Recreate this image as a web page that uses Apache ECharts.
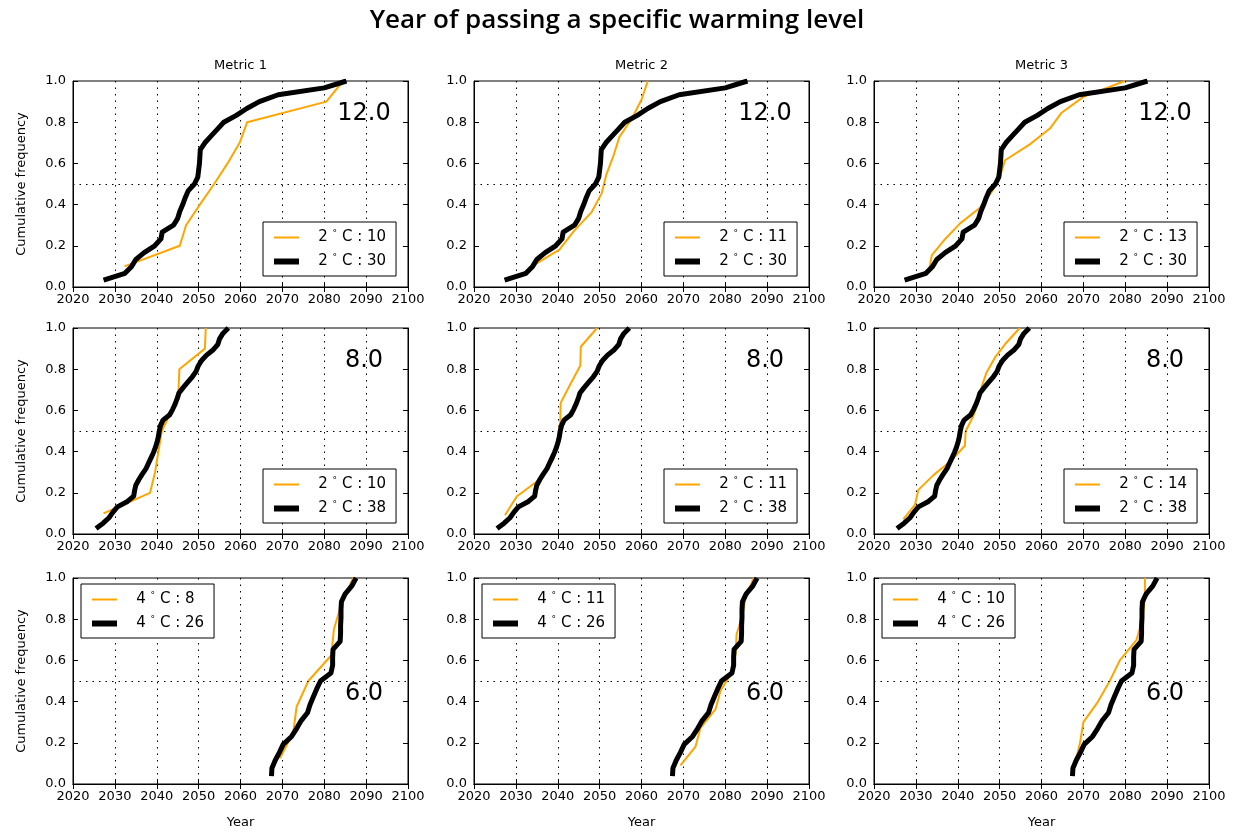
<!DOCTYPE html>
<html>
<head>
<meta charset="utf-8">
<script src="https://cdn.jsdelivr.net/npm/echarts@6/dist/echarts.min.js"></script>
<style>
html, body { margin: 0; background: #fff; }
#chart { width: 1234px; height: 832px; }
</style>
</head>
<body>
<div id="chart"></div>
<script>
// column / row labels
const metrics = ['Metric 1', 'Metric 2', 'Metric 3']
const levels = ['12.0', '8.0', '6.0']
const warming = ['2', '2', '4']

// sorted years of passing the level, black = reference ensemble per row
const black2C30 = [2027.3, 2032.4, 2034.0, 2035.0, 2037.0, 2039.5, 2041.0, 2041.3, 2044.0, 2045.0,
    2045.5, 2046.2, 2046.8, 2047.5, 2049.0, 2049.8, 2050.0, 2050.2, 2050.3, 2050.4,
    2051.5, 2053.0, 2054.5, 2056.0, 2059.0, 2061.5, 2064.5, 2069.0, 2080.0, 2085.3]
const black2C38 = [2025.5, 2027.2, 2028.6, 2029.5, 2030.6, 2033.0, 2034.5, 2034.7, 2035.0, 2035.7,
    2036.5, 2037.4, 2038.0, 2038.6, 2039.2, 2039.7, 2040.1, 2040.4, 2040.6, 2040.9,
    2041.5, 2043.1, 2043.8, 2044.4, 2044.9, 2045.3, 2046.3, 2047.4, 2048.5, 2049.4,
    2049.9, 2050.7, 2051.9, 2053.5, 2054.6, 2055.0, 2055.8, 2057.1]
const black4C26 = [2067.4, 2067.5, 2068.3, 2069.3, 2070.2, 2072.2, 2073.4, 2074.5, 2076.0, 2076.6,
    2077.4, 2078.2, 2079.1, 2081.6, 2082.0, 2082.0, 2082.1, 2083.8, 2083.9, 2083.9,
    2084.0, 2084.0, 2084.1, 2085.0, 2086.6, 2087.6]

// orange = subset per metric
const orangeR1M1 = [2032.3, 2045.5, 2047.0, 2050.3, 2053.7, 2056.9, 2059.8, 2061.6, 2080.5, 2084.5]
const orangeR1M2 = [2033.0, 2040.4, 2043.9, 2048.1, 2050.5, 2051.6, 2053.3, 2054.7, 2057.7, 2060.0, 2061.5]
const orangeR1M3 = [2033.1, 2033.8, 2036.9, 2040.5, 2045.3, 2048.1, 2050.1, 2051.3, 2057.2, 2062.0,
    2064.8, 2070.0, 2079.9]
const orangeR2M1 = [2027.3, 2038.4, 2039.6, 2040.4, 2041.2, 2043.6, 2045.2, 2045.4, 2051.5, 2051.7]
const orangeR2M2 = [2027.4, 2030.2, 2036.2, 2039.0, 2039.9, 2040.6, 2040.7, 2043.0, 2045.4, 2045.5, 2049.4]
const orangeR2M3 = [2027.0, 2029.8, 2030.6, 2034.2, 2038.5, 2041.7, 2041.9, 2043.7, 2044.9, 2045.7,
    2046.9, 2048.9, 2051.6, 2054.8]
const orangeR3M1 = [2069.4, 2072.6, 2073.4, 2076.2, 2081.7, 2082.3, 2084.1, 2086.9]
const orangeR3M2 = [2069.3, 2072.9, 2074.1, 2077.7, 2078.9, 2081.7, 2082.5, 2082.7, 2084.1, 2084.9, 2086.8]
const orangeR3M3 = [2068.0, 2069.2, 2070.0, 2073.5, 2076.3, 2078.7, 2082.7, 2084.1, 2084.7, 2084.7]

const blacks = [black2C30, black2C38, black4C26]
const oranges = [
    [orangeR1M1, orangeR1M2, orangeR1M3],
    [orangeR2M1, orangeR2M2, orangeR2M3],
    [orangeR3M1, orangeR3M2, orangeR3M3]
]

// layout
const colLeft = [73, 474, 874]
const rowTop = [81, 328, 578]
const W = 335
const H = 206
const FONT = 'DejaVu Sans'

// cumulative frequency of sorted years
function cumfreq(years) {
    return years.map((y, i) => [y, (i + 1) / years.length])
}

let grids = [], xAxes = [], yAxes = [], series = [], legends = [], graphics = []

graphics.push({
    type: 'text', x: 617, y: 21,
    style: { text: 'Year of passing a specific warming level', font: '600 26px "Open Sans"', fill: '#000', textAlign: 'center', textVerticalAlign: 'middle' }
})

for (let r = 0; r < 3; r++) {
    for (let c = 0; c < 3; c++) {
        let g = grids.length
        grids.push({
            left: colLeft[c], top: rowTop[r], width: W, height: H,
            show: true, borderColor: '#000', borderWidth: 1, backgroundColor: '#fff'
        })
        // bottom x axis
        xAxes.push({
            type: 'value', gridIndex: g, min: 2020, max: 2100, interval: 10,
            name: r === 2 ? 'Year' : '', nameLocation: 'middle', nameGap: 32,
            nameTextStyle: { fontFamily: FONT, fontSize: 13, color: '#000' },
            axisLine: { show: true, lineStyle: { color: '#000' } },
            axisTick: { inside: true, length: 5, lineStyle: { color: '#000' } },
            axisLabel: { fontFamily: FONT, fontSize: 13, color: '#000', margin: 6, formatter: v => String(v) },
            splitLine: { show: true, lineStyle: { color: '#000', type: [1.5, 5], width: 1 } }
        })
        // top x axis, ticks only
        xAxes.push({
            type: 'value', gridIndex: g, position: 'top', min: 2020, max: 2100, interval: 10,
            axisLine: { show: true, lineStyle: { color: '#000' } },
            axisTick: { inside: true, length: 5, lineStyle: { color: '#000' } },
            axisLabel: { show: false }, splitLine: { show: false }
        })
        yAxes.push({
            type: 'value', gridIndex: g, min: 0, max: 1, interval: 0.2,
            name: c === 0 ? 'Cumulative frequency' : '', nameLocation: 'middle', nameGap: 45,
            nameTextStyle: { fontFamily: FONT, fontSize: 13, color: '#000' },
            axisLine: { show: true, lineStyle: { color: '#000' } },
            axisTick: { inside: true, length: 5, lineStyle: { color: '#000' } },
            axisLabel: { fontFamily: FONT, fontSize: 13, color: '#000', margin: 7, formatter: v => v.toFixed(1) },
            splitLine: { show: false }
        })
        yAxes.push({
            type: 'value', gridIndex: g, position: 'right', min: 0, max: 1, interval: 0.2,
            axisLine: { show: true, lineStyle: { color: '#000' } },
            axisTick: { inside: true, length: 5, lineStyle: { color: '#000' } },
            axisLabel: { show: false }, splitLine: { show: false }
        })

        let orange = oranges[r][c]
        let black = blacks[r]
        let oName = warming[r] + '°C : ' + orange.length
        let bName = warming[r] + '°C : ' + black.length

        series.push({
            name: oName, type: 'line', xAxisIndex: 2 * g, yAxisIndex: 2 * g,
            data: cumfreq(orange), symbol: 'none', color: '#FFA500',
            lineStyle: { color: '#FFA500', width: 2 }, z: 2, silent: true,
            markLine: {
                silent: true, symbol: 'none', label: { show: false },
                lineStyle: { color: '#000', type: [1.5, 5], width: 1 },
                data: [{ yAxis: 0.5 }]
            }
        })
        series.push({
            name: bName, type: 'line', xAxisIndex: 2 * g, yAxisIndex: 2 * g,
            data: cumfreq(black), symbol: 'none', color: '#000',
            lineStyle: { color: '#000', width: 5, join: 'round' }, z: 3, silent: true
        })

        let leg = {
            data: [
                { name: oName, lineStyle: { color: '#FFA500', width: 2 } },
                { name: bName, lineStyle: { color: '#000', width: 6 } }
            ],
            orient: 'vertical',
            itemWidth: 25, itemHeight: 14, itemGap: 8,
            padding: [7, 10, 7, 8],
            borderColor: '#000', borderWidth: 1, backgroundColor: '#fff',
            selectedMode: false,
            itemStyle: { opacity: 0 },
            formatter: n => '   ' + n.replace('°', ' {deg|°} '),
            textStyle: {
                fontFamily: FONT, fontSize: 15, color: '#000',
                rich: { deg: { fontFamily: FONT, fontSize: 9, color: '#000', padding: [0, 0, 8, 0] } }
            }
        }
        if (r === 2) {
            leg.left = colLeft[c] + 8
            leg.top = rowTop[r] + 6
        } else {
            leg.left = colLeft[c] + W - 145
            leg.top = rowTop[r] + H - 65
        }
        legends.push(leg)

        // warming level label, centred near year 2089
        let lx = colLeft[c] + (2089.5 - 2020) / 80 * W
        let ly = r === 2 ? rowTop[r] + H * (1 - 0.44) : rowTop[r] + H * (1 - 0.84)
        graphics.push({
            type: 'text', x: lx, y: ly,
            style: { text: levels[r], font: '24px "DejaVu Sans"', fill: '#000', textAlign: 'center', textVerticalAlign: 'middle' }
        })
    }
}

metrics.forEach((m, c) => {
    graphics.push({
        type: 'text', x: colLeft[c] + W / 2, y: 66,
        style: { text: m, font: '13px "DejaVu Sans"', fill: '#000', textAlign: 'center', textVerticalAlign: 'middle' }
    })
})

let chart = echarts.init(document.getElementById('chart'))
chart.setOption({
    animation: false,
    backgroundColor: '#fff',
    grid: grids,
    xAxis: xAxes,
    yAxis: yAxes,
    legend: legends,
    series: series,
    graphic: graphics
})
</script>
</body>
</html>
